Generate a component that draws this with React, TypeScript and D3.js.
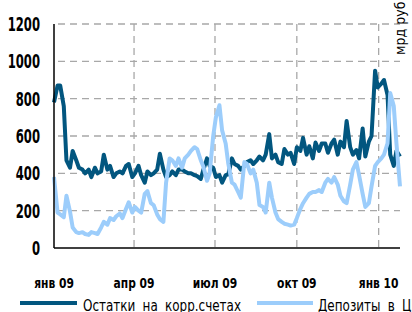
import { line, scaleLinear, scaleTime, timeParse } from "d3";
import { useMemo } from "react";

// dates shared by both series (twice a week)
const dates = [
  "2009-01-01", "2009-01-05", "2009-01-08", "2009-01-12", "2009-01-15", "2009-01-19", "2009-01-22", "2009-01-26", "2009-01-29",
  "2009-02-02", "2009-02-05", "2009-02-09", "2009-02-12", "2009-02-16", "2009-02-19", "2009-02-23", "2009-02-26",
  "2009-03-02", "2009-03-05", "2009-03-09", "2009-03-12", "2009-03-16", "2009-03-19", "2009-03-23", "2009-03-26", "2009-03-30",
  "2009-04-02", "2009-04-06", "2009-04-09", "2009-04-13", "2009-04-16", "2009-04-20", "2009-04-23", "2009-04-27", "2009-04-30",
  "2009-05-04", "2009-05-07", "2009-05-11", "2009-05-14", "2009-05-18", "2009-05-21", "2009-05-25", "2009-05-28",
  "2009-06-01", "2009-06-04", "2009-06-08", "2009-06-11", "2009-06-15", "2009-06-18", "2009-06-22", "2009-06-25", "2009-06-29",
  "2009-07-02", "2009-07-06", "2009-07-09", "2009-07-13", "2009-07-16", "2009-07-20", "2009-07-23", "2009-07-27", "2009-07-30",
  "2009-08-03", "2009-08-06", "2009-08-10", "2009-08-13", "2009-08-17", "2009-08-20", "2009-08-24", "2009-08-27", "2009-08-31",
  "2009-09-03", "2009-09-07", "2009-09-10", "2009-09-14", "2009-09-17", "2009-09-21", "2009-09-24", "2009-09-28",
  "2009-10-01", "2009-10-05", "2009-10-08", "2009-10-12", "2009-10-15", "2009-10-19", "2009-10-22", "2009-10-26", "2009-10-29",
  "2009-11-02", "2009-11-05", "2009-11-09", "2009-11-12", "2009-11-16", "2009-11-19", "2009-11-23", "2009-11-26", "2009-11-30",
  "2009-12-03", "2009-12-07", "2009-12-10", "2009-12-14", "2009-12-17", "2009-12-21", "2009-12-24", "2009-12-28", "2009-12-31",
  "2010-01-04", "2010-01-07", "2010-01-11", "2010-01-14", "2010-01-18", "2010-01-21", "2010-01-25"
];

// Остатки на корр.счетах, млрд руб
const balances = [
  780, 870, 870, 760, 470, 430, 520, 470, 430,
  420, 400, 420, 380, 430, 400, 410, 500,
  420, 440, 380, 400, 410, 400, 440, 450, 380,
  400, 440, 390, 350, 410, 390, 400, 420, 505,
  420, 380, 390, 410, 390, 420, 420, 410,
  400, 400, 390, 385, 370, 420, 480, 440, 430,
  380, 390, 350, 390, 395, 480, 450, 440, 420,
  440, 460, 470, 450, 470, 490, 470, 500, 610,
  480, 500, 460, 450, 530, 500, 510, 450,
  540, 520, 590, 500, 545, 480, 565, 520, 560,
  560, 510, 560, 580, 500, 570, 540, 680, 540,
  500, 525, 480, 640, 490, 570, 600, 950, 860,
  880, 900, 820, 500, 440, 520, 490
];

// Депозиты в ЦБ, млрд руб
const deposits = [
  380, 190, 180, 165, 280, 195, 110, 85, 80,
  85, 75, 70, 85, 80, 75, 110, 140,
  125, 160, 150, 170, 185, 160, 210, 245, 190,
  220, 200, 190, 290, 305, 240, 230, 180, 155,
  140, 350, 480, 470, 440, 480, 430, 480,
  500, 520, 540, 530, 470, 435, 360, 400, 600,
  700, 765, 630, 560, 450, 350, 340, 300, 270,
  460, 450, 400, 420, 350, 230, 220, 190, 350,
  270, 190, 155, 140, 130, 125, 120, 125,
  160, 210, 240, 270, 290, 300, 300, 310, 300,
  350, 370, 350, 380, 340, 280, 250, 240, 340,
  420, 460, 390, 290, 220, 240, 330, 440, 460,
  480, 500, 560, 830, 760, 560, 330
];

const yTicks = [0, 200, 400, 600, 800, 1000, 1200];
const xTickDates = ["2009-01-01", "2009-04-01", "2009-07-01", "2009-10-01", "2010-01-01"];
const xTickLabels = ["янв 09", "апр 09", "июл 09", "окт 09", "янв 10"];
const seriesNames = ["Остатки на корр.счетах", "Депозиты в ЦБ"];
const unitLabel = "мрд руб";

const width = 412;
const height = 312;
const plotLeft = 54;
const plotRight = 400;
const plotTop = 24;
const plotBottom = 248;
const darkColor = "#02567f";
const lightColor = "#9ccdfb";
const gridColor = "#a8a8a8";
// no condensed Gill-like face here, so squeeze DejaVu Condensed horizontally
const fontFamily = "'DejaVu Sans Condensed', 'DejaVu Sans', sans-serif";

const parseDate = timeParse("%Y-%m-%d");

function App() {
  const times = useMemo(() => dates.map((d) => parseDate(d) as Date), []);

  const xScale = useMemo(
    () =>
      scaleTime()
        .domain([times[0], times[times.length - 1]])
        .range([plotLeft, plotRight]),
    [times]
  );
  const yScale = useMemo(
    () => scaleLinear().domain([0, 1200]).range([plotBottom, plotTop]),
    []
  );

  const pathFor = (values: number[]) => {
    const builder = line<number>()
      .x((_, i) => xScale(times[i]))
      .y((v) => yScale(v));
    return builder(values) ?? "";
  };

  const darkPath = pathFor(balances);
  const lightPath = pathFor(deposits);

  return (
    <svg
      width={width}
      height={height}
      style={{ position: "absolute", left: 0, top: 0, background: "#fff" }}
      fontFamily={fontFamily}
    >
      {yTicks.slice(1).map((t) => (
        <line
          key={`h-${t}`}
          x1={plotLeft}
          x2={plotRight}
          y1={yScale(t)}
          y2={yScale(t)}
          stroke={gridColor}
          strokeWidth={1.3}
          strokeDasharray="7 5"
          strokeDashoffset={-4}
        />
      ))}
      {xTickDates.slice(1).map((d) => {
        const x = xScale(parseDate(d) as Date);
        return (
          <line
            key={`v-${d}`}
            x1={x}
            x2={x}
            y1={plotTop}
            y2={plotBottom}
            stroke={gridColor}
            strokeWidth={1.3}
            strokeDasharray="7 5"
          />
        );
      })}
      <path
        d={darkPath}
        fill="none"
        stroke={darkColor}
        strokeWidth={4}
        strokeLinejoin="round"
      />
      <path
        d={lightPath}
        fill="none"
        stroke={lightColor}
        strokeWidth={4}
        strokeLinejoin="round"
      />
      <line x1={plotLeft} x2={plotLeft} y1={plotTop} y2={plotBottom} stroke="#000" strokeWidth={1.5} />
      <line x1={plotLeft} x2={plotRight} y1={plotBottom} y2={plotBottom} stroke="#000" strokeWidth={1.5} />
      {yTicks.map((t) => (
        <text
          key={`yl-${t}`}
          transform={`translate(40,${yScale(t)}) scale(0.68,1)`}
          dy="0.36em"
          textAnchor="end"
          fontSize={19}
          fontWeight="bold"
          fill="#000"
        >
          {t}
        </text>
      ))}
      {xTickDates.map((d, i) => (
        <text
          key={`xl-${d}`}
          transform={`translate(${xScale(parseDate(d) as Date)},288) scale(0.85,1)`}
          textAnchor="middle"
          fontSize={14}
          fontWeight="bold"
          fill="#000"
        >
          {xTickLabels[i]}
        </text>
      ))}
      <text
        transform="translate(405,55) rotate(-90)"
        fontSize={14}
        fill="#000"
      >
        {unitLabel}
      </text>
      <line x1={20} x2={77} y1={303} y2={303} stroke={darkColor} strokeWidth={4} />
      <text
        transform="translate(83,311) scale(0.86,1)"
        fontSize={15.5}
        fill="#000"
        wordSpacing={4}
      >
        {seriesNames[0]}
      </text>
      <line x1={257} x2={313} y1={303} y2={303} stroke={lightColor} strokeWidth={4} />
      <text
        transform="translate(318,311) scale(0.86,1)"
        fontSize={15.5}
        fill="#000"
        wordSpacing={4}
      >
        {seriesNames[1]}
      </text>
    </svg>
  );
}

export default App;
